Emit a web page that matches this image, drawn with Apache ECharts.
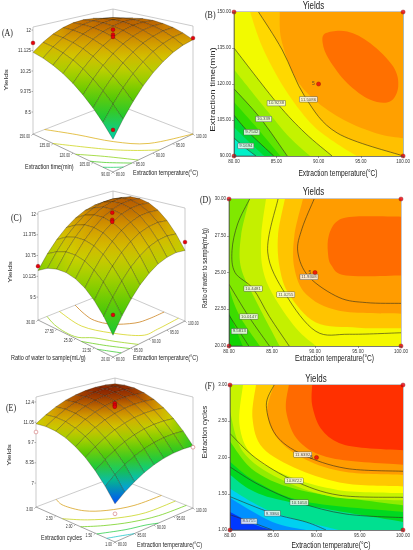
<!DOCTYPE html>
<html lang="en">
<head>
<meta charset="UTF-8">
<title>Yields response surfaces</title>
<script src="https://cdn.jsdelivr.net/npm/echarts@6.0.0/dist/echarts.min.js"></script>
<style>
  html, body { margin: 0; padding: 0; background: #fff; }
  #chart { width: 413px; height: 550px; }
</style>
</head>
<body>
<div id="chart"></div>
<script>
// factor levels of the 9 x 9 reading grid
const gridTemp = [80, 82.5, 85, 87.5, 90, 92.5, 95, 97.5, 100];
const gridTime = [90, 97.5, 105, 112.5, 120, 127.5, 135, 142.5, 150];
const gridRatio = [20, 21.25, 22.5, 23.75, 25, 26.25, 27.5, 28.75, 30];
const gridCycles = [1, 1.25, 1.5, 1.75, 2, 2.25, 2.5, 2.75, 3];

// axis ticks
const tempTicks = [80, 85, 90, 95, 100];
const timeTicks = [90, 105, 120, 135, 150];
const ratioTicks = [20, 22.5, 25, 27.5, 30];
const cycleTicks = [1, 1.5, 2, 2.5, 3];
const yieldTicksA = [8.5, 9.375, 10.25, 11.125, 12];
const yieldTicksC = [9.5, 10.125, 10.75, 11.375, 12];
const yieldTicksE = [7, 8.35, 9.7, 11.05, 12.4];

// yields (rows: second factor low -> high, columns: temperature 80 -> 100)
const yieldTempTime = [
  [8.80, 9.40, 9.92, 10.38, 10.76, 11.06, 11.30, 11.46, 11.55],
  [9.27, 9.83, 10.32, 10.74, 11.08, 11.36, 11.56, 11.69, 11.74],
  [9.68, 10.21, 10.66, 11.05, 11.36, 11.60, 11.76, 11.86, 11.88],
  [10.04, 10.53, 10.95, 11.30, 11.58, 11.78, 11.92, 11.98, 11.96],
  [10.35, 10.81, 11.19, 11.51, 11.75, 11.92, 12.02, 12.04, 12.00],
  [10.60, 11.03, 11.38, 11.66, 11.87, 12.00, 12.07, 12.06, 11.98],
  [10.80, 11.19, 11.51, 11.76, 11.93, 12.03, 12.06, 12.02, 11.90],
  [10.95, 11.31, 11.59, 11.81, 11.95, 12.01, 12.01, 11.93, 11.78],
  [11.05, 11.37, 11.62, 11.80, 11.91, 11.94, 11.90, 11.79, 11.60]
];
const yieldTempRatio = [
  [9.40, 9.81, 10.15, 10.43, 10.64, 10.79, 10.87, 10.89, 10.84],
  [9.80, 10.21, 10.55, 10.83, 11.04, 11.19, 11.27, 11.29, 11.24],
  [10.12, 10.53, 10.87, 11.15, 11.36, 11.51, 11.59, 11.61, 11.56],
  [10.36, 10.76, 11.11, 11.38, 11.60, 11.74, 11.83, 11.84, 11.80],
  [10.51, 10.92, 11.26, 11.54, 11.75, 11.90, 11.98, 12.00, 11.95],
  [10.58, 10.99, 11.33, 11.61, 11.82, 11.97, 12.05, 12.07, 12.02],
  [10.57, 10.98, 11.32, 11.60, 11.81, 11.96, 12.04, 12.06, 12.01],
  [10.48, 10.88, 11.23, 11.50, 11.72, 11.86, 11.95, 11.96, 11.92],
  [10.30, 10.71, 11.05, 11.33, 11.54, 11.69, 11.77, 11.79, 11.74]
];
const yieldTempCycles = [
  [7.70, 8.18, 8.59, 8.93, 9.19, 9.38, 9.49, 9.53, 9.50],
  [8.54, 9.02, 9.42, 9.75, 10.00, 10.18, 10.29, 10.33, 10.29],
  [9.26, 9.73, 10.12, 10.45, 10.69, 10.87, 10.97, 10.99, 10.95],
  [9.85, 10.32, 10.70, 11.02, 11.26, 11.43, 11.52, 11.54, 11.49],
  [10.32, 10.78, 11.16, 11.47, 11.70, 11.86, 11.95, 11.96, 11.90],
  [10.67, 11.11, 11.49, 11.79, 12.02, 12.17, 12.25, 12.25, 12.18],
  [10.89, 11.33, 11.69, 11.99, 12.21, 12.35, 12.42, 12.42, 12.35],
  [10.98, 11.41, 11.77, 12.06, 12.27, 12.41, 12.48, 12.47, 12.38],
  [10.95, 11.37, 11.73, 12.01, 12.21, 12.34, 12.40, 12.39, 12.30]
];

// experimental points visible on the surfaces: [temperature, second factor, yield]
const pointsTempTime = [[80, 90, 9.15], [80, 150, 11.45], [100, 90, 11.62], [90, 120, 12.07], [90, 120, 11.86], [90, 120, 11.76]];
const pointsTempRatio = [[80, 20, 9.95], [80, 30, 10.43], [100, 20, 11.08], [90, 25, 12.04], [90, 25, 11.83], [90, 25, 11.77]];
const pointsTempCycles = [[80, 1, 7.10], [80, 3, 10.40], [100, 1, 9.42], [90, 2, 12.38], [90, 2, 12.25], [90, 2, 12.15]];

// design points on the contour maps (last one = centre, 5 runs)
const designTempTime = [[80, 90], [80, 150], [100, 90], [100, 150], [90, 120]];
const designTempRatio = [[80, 20], [80, 30], [100, 20], [100, 30], [90, 25]];
const designTempCycles = [[80, 1], [80, 3], [100, 1], [100, 3], [90, 2]];
const centerRuns = '5';

// contour lines: level labels, traced points, label positions
const levelsTempTime = ['9.1694', '9.7542', '10.339', '10.9238', '11.5086'];
const linesTempTime = [
  [[80, 97.5], [81.3, 93.5], [82.6, 90]],
  [[80, 107], [81.7, 100], [84.7, 90]],
  [[80, 118], [83.1, 105.8], [86.3, 90]],
  [[80, 135], [85.1, 112], [88.4, 99.6], [91.6, 90]],
  [[82.9, 150], [85.7, 134.2], [88.4, 114.6], [92.2, 99.6], [100, 90]]
];
const labelAtTempTime = [[81.4, 94.2], [82.1, 99.9], [83.5, 105.4], [85.0, 112], [88.8, 113.6]];

const levelsTempRatio = ['9.5813', '10.0147', '10.4481', '11.0255', '11.9308'];
const linesTempRatio = [
  [[80, 22.1], [81.2, 21.0], [82.3, 20]],
  [[80, 24.2], [82.3, 22.0], [84.7, 20]],
  [[82.4, 30], [81.0, 28.3], [80.35, 26.5], [80.7, 25.0], [82.8, 23.9], [84.7, 22.0], [87, 20]],
  [[85.7, 30], [84.5, 26.4], [86.6, 23.5], [90.1, 21.0], [94, 20.8], [100, 20.9]],
  [[89.9, 30], [88.5, 28], [88, 26.4], [89.3, 24.7], [92.8, 23.3], [96, 22.95], [100, 22.9]]
];
const labelAtTempRatio = [[81.2, 21.0], [82.3, 22.0], [82.8, 23.9], [86.6, 23.5], [89.3, 24.7]];

const levelsTempCycles = ['8.5715', '9.3384', '10.1053', '10.8722', '11.6392'];
const linesTempCycles = [
  [[80, 1.21], [82.2, 1.12], [84.9, 1.0]],
  [[80, 1.46], [84.9, 1.23], [88.8, 1.11], [91.1, 1.0]],
  [[80, 1.87], [83.4, 1.62], [88, 1.38], [93.4, 1.22], [100, 1.17]],
  [[80, 2.33], [83, 1.99], [87.4, 1.68], [92.6, 1.48], [100, 1.45]],
  [[85.1, 3.0], [84.2, 2.72], [85.3, 2.31], [88.4, 2.04], [93.4, 1.85], [100, 1.81]]
];
const labelAtTempCycles = [[82.2, 1.12], [84.9, 1.23], [88, 1.38], [87.4, 1.68], [88.4, 2.04]];

// colour band boundaries traced on the contour maps (low -> high)
const bandsTempTime = [
  [[80, 97.5], [81.3, 93.5], [82.6, 90]],
  [[80, 102], [81.6, 96.5], [83.6, 90]],
  [[80, 107], [81.7, 100], [84.7, 90]],
  [[80, 112.5], [82.4, 103], [85.5, 90]],
  [[80, 118], [83.1, 105.8], [86.3, 90]],
  [[80, 126], [84, 108.5], [86.5, 98], [89, 90]],
  [[80, 135], [85.1, 112], [88.4, 99.6], [91.6, 90]],
  [[81.9, 150], [83.4, 135], [86, 118], [89, 104], [91.8, 96], [94.5, 90]],
  [[82.9, 150], [85.7, 134.2], [88.4, 114.6], [92.2, 99.6], [100, 90]],
  [[85.4, 150], [85.6, 138.4], [87.2, 123.1], [89.5, 113.4], [93, 105], [96.9, 99.4], [100, 97.4]]
];
const islandTempTime = [[90.87, 141.2], [93.4, 141.9], [96.12, 137.0], [98.83, 127.3], [99.42, 118.9], [98.45, 112.7], [96.12, 113.4], [93.4, 120.3], [91.26, 130.1], [90.49, 137.0]];

const bandsTempRatio = [
  [[80, 22.3], [81.6, 20]],
  [[79.6, 30], [79.4, 27], [80, 24.1], [81.2, 22.1], [83.6, 20]],
  [[82.4, 30], [81.4, 27.5], [81.4, 25.3], [83.2, 23], [85.9, 20]],
  [[84.3, 30], [83.75, 27.5], [83.9, 25.3], [85.1, 23.5], [87.8, 21.2], [90.1, 20]],
  [[86.5, 30], [85.7, 27.5], [85.9, 25.3], [87, 23.5], [90.1, 21.6], [95, 21.25], [100, 21.2]],
  [[88.6, 30], [87.6, 27.5], [87.6, 25.3], [89, 23.5], [92.8, 22.4], [100, 22.2]],
  [[100, 28.8], [94.4, 28.8], [92.5, 28.45], [91.6, 27.5], [91.5, 26.4], [91.9, 25.5], [93.6, 24.8], [100, 24.8]]
];

const bandsTempCycles = [
  [[80, 1.25], [83, 1.07], [84.9, 1.0]],
  [[80, 1.44], [84.9, 1.11], [88.8, 1.0]],
  [[80, 1.57], [84.9, 1.25], [92.6, 1.0]],
  [[80, 1.76], [84.9, 1.44], [100, 1.11]],
  [[80, 1.94], [83, 1.67], [88.8, 1.39], [100, 1.25]],
  [[80, 2.22], [83, 1.80], [88.8, 1.53], [100, 1.34]],
  [[80, 2.63], [81.5, 2.08], [85.7, 1.71], [91.8, 1.46], [100, 1.41]],
  [[81.5, 3.0], [81.1, 2.45], [82.6, 2.03], [86.8, 1.74], [92.6, 1.55], [100, 1.51]],
  [[83, 3.0], [82.6, 2.54], [83.8, 2.13], [88, 1.83], [93.4, 1.64], [100, 1.60]],
  [[85.1, 3.0], [84.3, 2.63], [85.5, 2.26], [88.8, 1.97], [93.4, 1.80], [100, 1.76]],
  [[86.8, 3.0], [86.5, 2.63], [88, 2.22], [91.8, 1.99], [100, 1.90]],
  [[89.5, 3.0], [89.5, 2.72], [90.5, 2.40], [92.6, 2.20], [95.7, 2.13], [100, 2.10]]
];

// ---------- styles / layout ----------
const FONT = "'Liberation Sans', Arial, sans-serif";
const SERIF = "'Liberation Serif', 'DejaVu Serif', serif";
const surfaceStops = [[7.6, '#0040ff'], [8.2, '#00a0f0'], [8.8, '#00d0a8'], [9.3, '#10c838'], [9.9, '#48c800'],
  [10.5, '#98d000'], [11.0, '#d0d000'], [11.5, '#d8a800'], [11.9, '#c87800'], [12.2, '#a84800'], [12.5, '#882000']];

const surfacePanels = [
  {values: yieldTempTime, xs: gridTemp, ys: gridTime, xTicks: tempTicks, yTicks: timeTicks, zTicks: yieldTicksA,
   points: pointsTempTime, lines: linesTempTime, levels: levelsTempTime,
   box: {L: [33, 134], F: [113, 172], R: [193, 134], B: [113, 103], hL: 107, hF: 121, hR: 108, hB: 94, zMin: 7.56, zMax: 12.13}},
  {values: yieldTempRatio, xs: gridTemp, ys: gridRatio, xTicks: tempTicks, yTicks: ratioTicks, zTicks: yieldTicksC,
   points: pointsTempRatio, lines: linesTempRatio, levels: levelsTempRatio,
   box: {L: [38, 320], F: [113, 357], R: [185, 321], B: [113, 290], hL: 108, hF: 120, hR: 113, hB: 99, zMin: 8.81, zMax: 12.06}},
  {values: yieldTempCycles, xs: gridTemp, ys: gridCycles, xTicks: tempTicks, yTicks: cycleTicks, zTicks: yieldTicksE,
   points: pointsTempCycles, lines: linesTempCycles, levels: levelsTempCycles,
   box: {L: [36, 507], F: [115, 542], R: [193, 508], B: [115, 477], hL: 110, hF: 122, hR: 111, hB: 99, zMin: 5.41, zMax: 12.73}}
];

const contourPanels = [
  {rect: {left: 234, top: 12, width: 172, height: 144}, ys: gridTime, yTicks: timeTicks,
   base: '#00f0c8', bands: bandsTempTime, island: islandTempTime,
   bandColors: ['#00e070', '#00d830', '#30dc00', '#60e400', '#90ec00', '#c4f200', '#f2fa00', '#ffd800', '#ffc000', '#ffa000'],
   islandColor: '#ff7000', lines: linesTempTime, levels: levelsTempTime, labelAt: labelAtTempTime, design: designTempTime},
  {rect: {left: 229, top: 199, width: 172, height: 147}, ys: gridRatio, yTicks: ratioTicks,
   base: '#10d400', bands: bandsTempRatio, island: null,
   bandColors: ['#3cdc00', '#80e800', '#c4f000', '#f4f800', '#ffc400', '#ff9c00', '#ff6c00'],
   lines: linesTempRatio, levels: levelsTempRatio, labelAt: labelAtTempRatio, design: designTempRatio},
  {rect: {left: 230, top: 385, width: 173, height: 145}, ys: gridCycles, yTicks: cycleTicks,
   base: '#0038ff', bands: bandsTempCycles, island: null,
   bandColors: ['#0090ff', '#00d0f0', '#00e090', '#00d820', '#40e000', '#90ec00', '#c8f400', '#ffff00', '#ffc800', '#ff9c00', '#ff6a00', '#ff3000'],
   lines: linesTempCycles, levels: levelsTempCycles, labelAt: labelAtTempCycles, design: designTempCycles}
];

// free text: the source figure is horizontally squeezed, hence sx / sy
const freeTexts = [
  {text: '(A)', x: 2, y: 33, size: 10.5, sx: 0.75, font: SERIF},
  {text: '(B)', x: 205, y: 15, size: 10.5, sx: 0.75, font: SERIF},
  {text: '(C)', x: 11, y: 218, size: 10.5, sx: 0.75, font: SERIF},
  {text: '(D)', x: 200, y: 200, size: 10.5, sx: 0.75, font: SERIF},
  {text: '(E)', x: 6, y: 408, size: 10.5, sx: 0.75, font: SERIF},
  {text: '(F)', x: 205, y: 386, size: 10.5, sx: 0.75, font: SERIF},
  {text: 'Yields', x: 313.5, y: 6, size: 11, sx: 0.72, align: 'center'},
  {text: 'Yields', x: 313.5, y: 192, size: 11, sx: 0.72, align: 'center'},
  {text: 'Yields', x: 316, y: 379, size: 11, sx: 0.72, align: 'center'},
  {text: 'Extraction temperature(\u00b0C)', x: 338, y: 173, size: 9.5, sx: 0.7, align: 'center'},
  {text: 'Extraction temperature(\u00b0C)', x: 334.5, y: 358, size: 9.5, sx: 0.7, align: 'center'},
  {text: 'Extraction temperature(\u00b0C)', x: 331, y: 545, size: 9.5, sx: 0.7, align: 'center'},
  {text: 'Extraction time(min)', x: 213, y: 89.5, size: 9.5, sy: 0.72, align: 'center', rotate: true},
  {text: 'Ratio of water to sample(mL/g)', x: 205.5, y: 268, size: 7.8, sx: 0.75, sy: 0.85, align: 'center', rotate: true},
  {text: 'Extraction cycles', x: 205.5, y: 432, size: 9, sx: 0.78, sy: 0.8, align: 'center', rotate: true},
  {text: 'Yields', x: 6, y: 80, size: 8, sy: 0.7, align: 'center', rotate: true},
  {text: 'Yields', x: 10, y: 272, size: 8, sy: 0.7, align: 'center', rotate: true},
  {text: 'Yields', x: 9, y: 455, size: 8, sy: 0.7, align: 'center', rotate: true},
  {text: 'Extraction time(min)', x: 25, y: 167, size: 7.8, sx: 0.7},
  {text: 'Extraction temperature(\u00b0C)', x: 133, y: 173, size: 7.8, sx: 0.7},
  {text: 'Ratio of water to sample(mL/g)', x: 11, y: 358, size: 7.8, sx: 0.7},
  {text: 'Extraction temperature(\u00b0C)', x: 133, y: 358, size: 7.8, sx: 0.7},
  {text: 'Extraction cycles', x: 41, y: 538, size: 7.8, sx: 0.7},
  {text: 'Extraction temperature(\u00b0C)', x: 137, y: 545, size: 7.8, sx: 0.7}
];

// ---------- helpers ----------
function hexToRgb(h) { return [parseInt(h.slice(1, 3), 16), parseInt(h.slice(3, 5), 16), parseInt(h.slice(5, 7), 16)]; }
function surfaceColor(v) {
  const st = surfaceStops;
  if (v <= st[0][0]) return st[0][1];
  for (let k = 1; k < st.length; k++) {
    if (v <= st[k][0]) {
      const f = (v - st[k - 1][0]) / (st[k][0] - st[k - 1][0]);
      const a = hexToRgb(st[k - 1][1]), b = hexToRgb(st[k][1]);
      return 'rgb(' + a.map((c, i) => Math.round(c + (b[i] - c) * f)).join(',') + ')';
    }
  }
  return st[st.length - 1][1];
}
// box corners: F = both factors low, R = first high, L = second high, B = both high
function project(box, s, t, z) {
  const w = [(1 - s) * (1 - t), s * (1 - t), (1 - s) * t, s * t];
  const x = w[0] * box.F[0] + w[1] * box.R[0] + w[2] * box.L[0] + w[3] * box.B[0];
  const y = w[0] * box.F[1] + w[1] * box.R[1] + w[2] * box.L[1] + w[3] * box.B[1];
  const h = w[0] * box.hF + w[1] * box.hR + w[2] * box.hL + w[3] * box.hB;
  return [x, y - h * (z - box.zMin) / (box.zMax - box.zMin)];
}
// smooth curve through pixel points (catmull-rom as bezier)
function smoothPath(pts, closed) {
  const n = pts.length;
  const get = k => closed ? pts[(k + n) % n] : pts[Math.max(0, Math.min(n - 1, k))];
  let d = 'M' + pts[0][0] + ' ' + pts[0][1];
  const segs = closed ? n : n - 1;
  for (let k = 0; k < segs; k++) {
    const p0 = get(k - 1), p1 = get(k), p2 = get(k + 1), p3 = get(k + 2);
    d += ' C' + (p1[0] + (p2[0] - p0[0]) / 6) + ' ' + (p1[1] + (p2[1] - p0[1]) / 6) + ' ' +
      (p2[0] - (p3[0] - p1[0]) / 6) + ' ' + (p2[1] - (p3[1] - p1[1]) / 6) + ' ' + p2[0] + ' ' + p2[1];
  }
  return closed ? d + ' Z' : d;
}
// close a band curve around the high side of the plot (counter-clockwise on screen)
function closeCorners(pts, cs) {
  const m = 8;
  const corners = [[cs.x - m, cs.y + cs.height + m], [cs.x + cs.width + m, cs.y + cs.height + m],
    [cs.x + cs.width + m, cs.y - m], [cs.x - m, cs.y - m]];
  const edgeOf = p => {
    const d = [Math.abs(p[1] - (cs.y + cs.height)), Math.abs(p[0] - (cs.x + cs.width)), Math.abs(p[1] - cs.y), Math.abs(p[0] - cs.x)];
    return d.indexOf(Math.min.apply(null, d));
  };
  let k = edgeOf(pts[pts.length - 1]);
  const s = edgeOf(pts[0]);
  let d = '', guard = 0;
  while (k !== s && guard++ < 4) { k = (k + 1) % 4; d += ' L' + corners[k][0] + ' ' + corners[k][1]; }
  return d + ' Z';
}
function clipRect(cs) { return {type: 'rect', shape: {x: cs.x, y: cs.y, width: cs.width, height: cs.height}}; }

// ---------- 3D panels ----------
function sceneSeries(sp) {
  return {
    type: 'custom', xAxisIndex: 3, yAxisIndex: 3, z: 2, silent: true, data: [[0, 0]],
    renderItem(params, api) {
      const b = sp.box, lo = b.zMin, top = b.zMax;
      const P = (s, t, z) => api.coord(project(b, s, t, z));
      const kids = [];
      const seg = (p, q, color, w) => kids.push({type: 'line', shape: {x1: p[0], y1: p[1], x2: q[0], y2: q[1]}, style: {stroke: color, lineWidth: w}});
      const txt = (p, text, align, size) => kids.push({type: 'text', x: p[0], y: p[1], scaleX: 0.72,
        style: {text, fill: '#333', fontSize: size, fontFamily: FONT, align, textAlign: align, verticalAlign: 'middle', textVerticalAlign: 'middle'}});
      const grey = '#a8a8a8';
      [[0, 1], [1, 1], [1, 0]].forEach(([s, t]) => seg(P(s, t, lo), P(s, t, top), grey, 0.6));
      seg(P(0, 1, top), P(1, 1, top), grey, 0.6); seg(P(1, 1, top), P(1, 0, top), grey, 0.6);
      seg(P(0, 1, lo), P(1, 1, lo), grey, 0.6); seg(P(1, 1, lo), P(1, 0, lo), grey, 0.6);
      seg(P(0, 1, lo), P(0, 0, lo), '#666', 0.6); seg(P(0, 0, lo), P(1, 0, lo), '#666', 0.6);
      const x0 = sp.xs[0], x1 = sp.xs[sp.xs.length - 1], y0 = sp.ys[0], y1 = sp.ys[sp.ys.length - 1];
      sp.xTicks.forEach(v => {
        const p = P((v - x0) / (x1 - x0), 0, lo);
        seg(p, [p[0] + 1.6, p[1] + 1.6], '#666', 0.5);
        txt([p[0] + 3, p[1] + 2.5], v.toFixed(2), 'left', 4.8);
      });
      sp.yTicks.forEach(v => {
        const p = P(0, (v - y0) / (y1 - y0), lo);
        seg(p, [p[0] - 1.6, p[1] + 1.6], '#666', 0.5);
        txt([p[0] - 3, p[1] + 2.5], v.toFixed(2), 'right', 4.8);
      });
      sp.zTicks.forEach(v => {
        const p = P(0, 1, v);
        seg(p, [p[0] - 1.5, p[1]], '#666', 0.5);
        txt([p[0] - 2, p[1]], String(v), 'right', 6);
      });
      sp.lines.forEach((ln, k) => {
        const pts = ln.map(q => P((q[0] - x0) / (x1 - x0), (q[1] - y0) / (y1 - y0), lo));
        kids.push({type: 'path', shape: {pathData: smoothPath(pts, false)},
          style: {fill: 'none', stroke: surfaceColor(parseFloat(sp.levels[k])), lineWidth: 0.7}});
      });
      return {type: 'group', children: kids};
    }
  };
}

function surfaceSeries(sp) {
  const g = sp.values, n = g.length;
  const cells = [];
  for (let j = 0; j < n - 1; j++) for (let i = 0; i < n - 1; i++) cells.push([i, j]);
  cells.sort((a, b) => (b[0] + b[1]) - (a[0] + a[1]));
  return {
    type: 'custom', xAxisIndex: 3, yAxisIndex: 3, z: 3, silent: true, data: cells,
    renderItem(params, api) {
      const i = api.value(0), j = api.value(1);
      const c = [[i, j], [i + 1, j], [i + 1, j + 1], [i, j + 1]].map(([a, b]) => ({
        p: api.coord(project(sp.box, a / (n - 1), b / (n - 1), g[b][a])), v: g[b][a]
      }));
      let lo = c[0], hi = c[0];
      c.forEach(q => { if (q.v < lo.v) lo = q; if (q.v > hi.v) hi = q; });
      const fill = {type: 'linear', global: true, x: lo.p[0], y: lo.p[1], x2: hi.p[0], y2: hi.p[1] + 0.01,
        colorStops: [{offset: 0, color: surfaceColor(lo.v)}, {offset: 1, color: surfaceColor(hi.v)}]};
      return {type: 'polygon', shape: {points: c.map(q => q.p)},
        style: {fill, stroke: 'rgba(25,20,0,0.6)', lineWidth: 0.45}};
    }
  };
}

function dotSeries3d(sp) {
  const n = sp.xs.length;
  return {
    type: 'custom', xAxisIndex: 3, yAxisIndex: 3, z: 4, silent: true, data: sp.points.map((q, k) => [k, 0]),
    renderItem(params, api) {
      const q = sp.points[api.value(0)];
      const i = sp.xs.indexOf(q[0]), j = sp.ys.indexOf(q[1]);
      const p = api.coord(project(sp.box, i / (n - 1), j / (n - 1), q[2]));
      const below = q[2] < sp.values[j][i];
      return {type: 'circle', shape: {cx: p[0], cy: p[1], r: 1.9},
        style: below ? {fill: '#fff', stroke: '#d07070', lineWidth: 0.6} : {fill: '#e8000b', stroke: '#7a0000', lineWidth: 0.4}};
    }
  };
}

// ---------- contour panels ----------
const grids = [], xAxes = [], yAxes = [], series = [];
contourPanels.forEach((cp, k) => {
  grids.push(Object.assign({show: true, backgroundColor: cp.base, borderColor: '#444', borderWidth: 0.6}, cp.rect));
  const axisCommon = {
    z: 10,
    axisLabel: {fontSize: 4.5, color: '#333', margin: 3, fontFamily: FONT, formatter: v => v.toFixed(2)},
    axisTick: {length: 2, lineStyle: {color: '#444', width: 0.5}},
    axisLine: {lineStyle: {color: '#444', width: 0.6}}, splitLine: {show: false}
  };
  xAxes.push(Object.assign({gridIndex: k, type: 'value', min: 80, max: 100, interval: 5}, axisCommon));
  yAxes.push(Object.assign({gridIndex: k, type: 'value', min: cp.ys[0], max: cp.ys[cp.ys.length - 1],
    interval: cp.yTicks[1] - cp.yTicks[0]}, axisCommon));

  series.push({
    type: 'custom', xAxisIndex: k, yAxisIndex: k, z: 2, silent: true, clip: true,
    data: cp.bands.map((b, i) => [i, 0]),
    renderItem(params, api) {
      const i = api.value(0), cs = params.coordSys;
      const pts = cp.bands[i].map(q => api.coord(q));
      return {type: 'group', clipPath: clipRect(cs), children: [
        {type: 'path', shape: {pathData: smoothPath(pts, false) + closeCorners(pts, cs)}, style: {fill: cp.bandColors[i]}}]};
    }
  });
  if (cp.island) {
    series.push({
      type: 'custom', xAxisIndex: k, yAxisIndex: k, z: 2, silent: true, clip: true, data: [[0, 0]],
      renderItem(params, api) {
        const pts = cp.island.map(q => api.coord(q));
        return {type: 'group', clipPath: clipRect(params.coordSys), children: [
          {type: 'path', shape: {pathData: smoothPath(pts, true)}, style: {fill: cp.islandColor}}]};
      }
    });
  }
  series.push({
    type: 'custom', xAxisIndex: k, yAxisIndex: k, z: 3, silent: true, clip: true,
    data: cp.lines.map((l, i) => [i, 0]),
    renderItem(params, api) {
      const pts = cp.lines[api.value(0)].map(q => api.coord(q));
      return {type: 'group', clipPath: clipRect(params.coordSys), children: [
        {type: 'path', shape: {pathData: smoothPath(pts, false)}, style: {fill: 'none', stroke: '#2e2e1e', lineWidth: 0.6}}]};
    }
  });
  series.push({
    type: 'scatter', xAxisIndex: k, yAxisIndex: k, z: 6, silent: true, clip: false, symbolSize: 1,
    itemStyle: {color: 'rgba(0,0,0,0)'},
    data: cp.labelAt.map((q, i) => ({value: q, name: cp.levels[i]})),
    label: {show: true, position: 'inside', formatter: p => p.name, fontSize: 4.3, fontFamily: FONT, color: '#222',
      backgroundColor: '#fff', borderColor: '#555', borderWidth: 0.5, padding: [0.5, 1.2]}
  });
  series.push({
    type: 'scatter', xAxisIndex: k, yAxisIndex: k, z: 7, silent: true, clip: false, symbolSize: 4.2,
    itemStyle: {color: '#e8000b', borderColor: '#700', borderWidth: 0.4},
    data: cp.design.map((q, i) => i === cp.design.length - 1
      ? {value: q, label: {show: true, formatter: centerRuns, position: 'left', distance: 1.5, fontSize: 5, color: '#333'}}
      : {value: q})
  });
});

// hidden full-page cartesian system for the 3D views
grids.push({left: 0, top: 0, width: 413, height: 550, show: false});
xAxes.push({gridIndex: 3, type: 'value', min: 0, max: 413, show: false});
yAxes.push({gridIndex: 3, type: 'value', min: 0, max: 550, inverse: true, show: false});
surfacePanels.forEach(sp => { series.push(sceneSeries(sp), surfaceSeries(sp), dotSeries3d(sp)); });

const graphics = freeTexts.map(t => ({
  type: 'text', x: t.x, y: t.y, rotation: t.rotate ? Math.PI / 2 : 0, scaleX: t.sx || 1, scaleY: t.sy || 1, z: 20,
  style: {text: t.text, fill: '#222', font: t.size + 'px ' + (t.font || FONT),
    align: t.align || 'left', textAlign: t.align || 'left', verticalAlign: 'middle', textVerticalAlign: 'middle'}
}));

const chart = echarts.init(document.getElementById('chart'));
chart.setOption({
  animation: false,
  grid: grids,
  xAxis: xAxes,
  yAxis: yAxes,
  graphic: graphics,
  series: series
});
</script>
</body>
</html>
